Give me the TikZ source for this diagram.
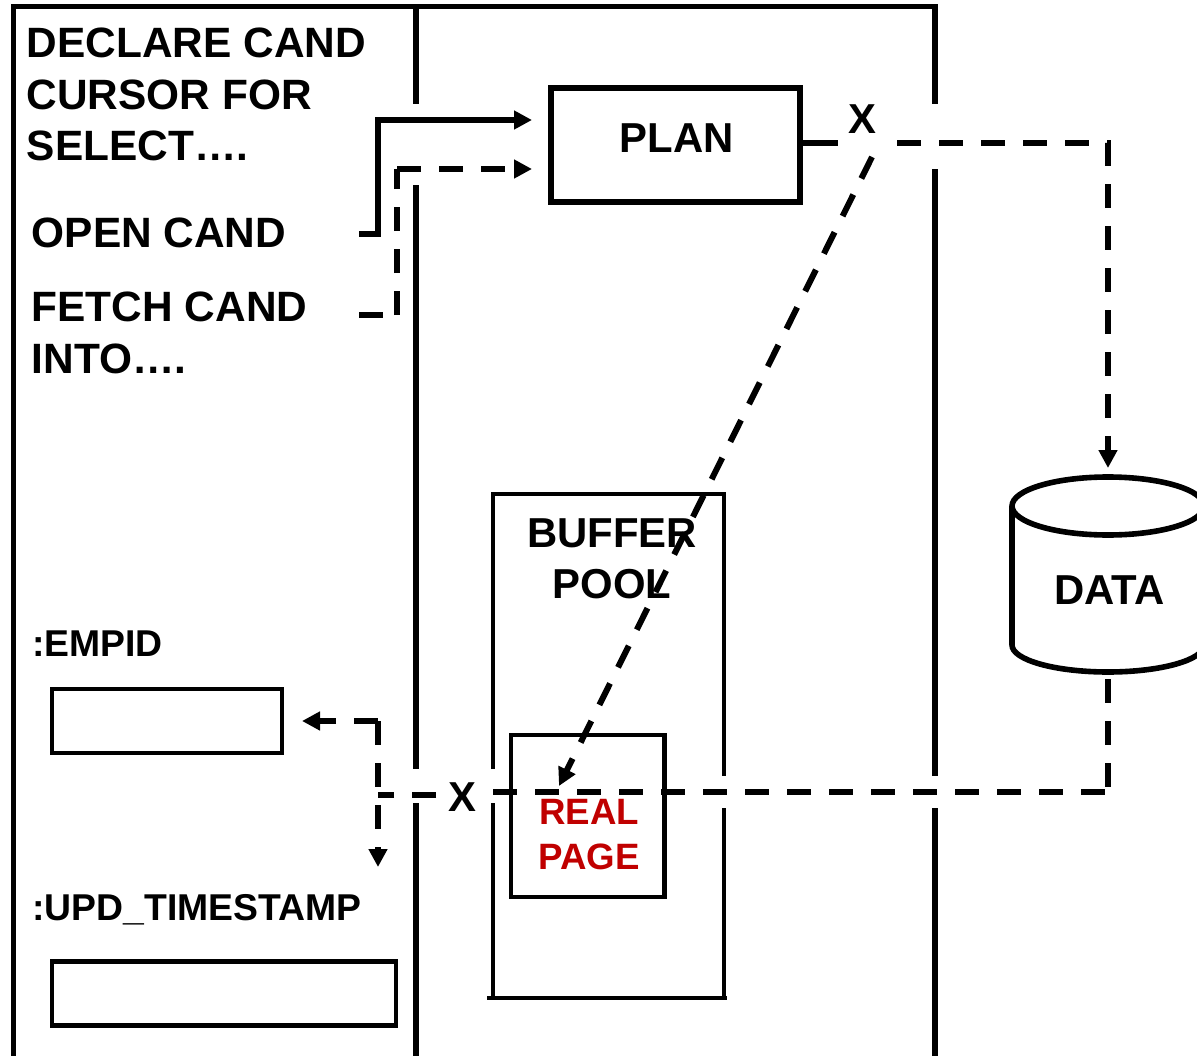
\documentclass[tikz,border=0pt]{standalone}
\usepackage{fontspec}
\setmainfont{Liberation Sans}
\usetikzlibrary{arrows.meta}
\definecolor{realred}{HTML}{C00000}
\tikzset{
  x=0.75pt,y=-0.75pt,
  wall/.style={line width=4.2pt},
  thin wall/.style={line width=3pt},
  box/.style={draw,line width=3.2pt,inner sep=0pt},
  conn/.style={line width=4.5pt},
  dashconn/.style={line width=4.5pt,dash pattern=on 18pt off 13.5pt},
  tip/.style={-{Triangle[length=13.5pt,width=13.5pt]}},
  lab/.style={font=\bfseries\fontsize{31.8}{38.6}\selectfont,inner sep=0pt,align=left,anchor=base west},
  clab/.style={font=\bfseries\fontsize{31.4}{38.6}\selectfont,inner sep=0pt,align=center},
  slab/.style={font=\bfseries\fontsize{28}{34}\selectfont,inner sep=0pt,anchor=base west},
  rlab/.style={font=\bfseries\fontsize{27.5}{33.75}\selectfont,inner sep=0pt,align=center,text=realred,anchor=base},
}
\begin{document}
\begin{tikzpicture}
\useasboundingbox (0,0) rectangle (1197,1056);
\clip (0,0) rectangle (1197,1056);
% walls
\coordinate (tl) at (13.5,6.5); \coordinate (tm) at (416,6.5); \coordinate (tr) at (935,6.5);
\draw[wall] (13.5,1056) -- (tl) -- (tr) -- (935,104);
\draw[wall] (tm) -- (416,104);
\draw[wall] (416,185) -- (416,769);
\draw[wall] (416,803) -- (416,1056);
\draw[wall] (935,169) -- (935,776);
\draw[wall] (935,808) -- (935,1056);
% buffer pool
\draw[thin wall] (493,769) -- (493,494) -- (724,494) -- (724,776);
\draw[thin wall] (493,803) -- (493,998);
\draw[thin wall] (724,808) -- (724,998);
\draw[thin wall] (487,998) -- (727,998);
% boxes
\node[box,line width=4.4pt,minimum width=187pt,minimum height=85pt] (plan) at (675.5,145) {};
\node[clab] (plantext) at (676.5,138) {PLAN};
\node[box,minimum width=172pt,minimum height=48pt] (empid) at (167,721) {};
\node[box,minimum width=258pt,minimum height=48pt] (upd) at (224,993.5) {};
\node[box,minimum width=115pt,minimum height=121.5pt] (real) at (587.75,816) {};
% cylinder
\draw[wall,fill=white] (1012,506) -- (1012,645) arc[start angle=180,end angle=360,x radius=96,y radius=-27] -- (1204,506);
\draw[wall] (1108,506) ellipse[x radius=96,y radius=29];
\coordinate (dataT) at (1108,468);
\coordinate (dataB) at (1108,679);
\node[clab] (data) at (1109.5,590) {DATA};
% text
\node[lab] (decl) at (26.5,160.5) {DECLARE CAND\\CURSOR FOR\\SELECT….};
\node[lab] (open) at (31.5,247) {OPEN CAND};
\node[lab] (fetch) at (31.5,373) {FETCH CAND\\INTO….};
\node[slab] (emp) at (32,656) {:EMPID};
\node[slab] (ts) at (32,920) {:UPD\_TIMESTAMP};
\node[clab] (buf) at (612,559) {BUFFER\\POOL};
\node[rlab] (rp) at (589,869.5) {REAL\\PAGE};
\node[clab] (x1) at (862,119.5) {X};
\node[clab] (x2) at (462,797) {X};
% connectors
\coordinate (o1) at (359,234); \coordinate (o2) at (378,234); \coordinate (o3) at (378,120); \coordinate (o4) at (532,120);
\draw[conn,tip] (o1) -- (o2) -- (o3) -- (o4);
\coordinate (f1) at (359,315); \coordinate (f2) at (383,315); \coordinate (f3) at (397,315); \coordinate (f4) at (397,169); \coordinate (f5) at (532,169);
\draw[conn] (f1) -- (f2);
\draw[dashconn] (f3) -- (f4);
\draw[dashconn,tip] (f4) -- (f5);
\coordinate (p1) at (838,143); \coordinate (p2) at (897,143); \coordinate (p3) at (1108,143);
\draw[conn] (plan.east |- p1) -- (p1);
\draw[dashconn,tip] (p2) -- (p3) -- (dataT);
\coordinate (d1) at (872,157); \coordinate (d2) at (559,786);
\draw[dashconn,tip] (d1) -- (d2);
\coordinate (c1) at (1108,792); \coordinate (c2) at (493,792);
\draw[dashconn] (dataB) -- (c1);
\draw[dashconn] (c2) -- (c1);
\coordinate (e1) at (436,795); \coordinate (e2) at (378,795); \coordinate (e3) at (378,721); \coordinate (e4) at (302,721); \coordinate (e5) at (378,867);
\draw[dashconn] (e1) -- (e2);
\draw[dashconn,tip] (e3) -- (e4);
\draw[dashconn,tip] (e3) -- (e5);
\end{tikzpicture}
\end{document}
